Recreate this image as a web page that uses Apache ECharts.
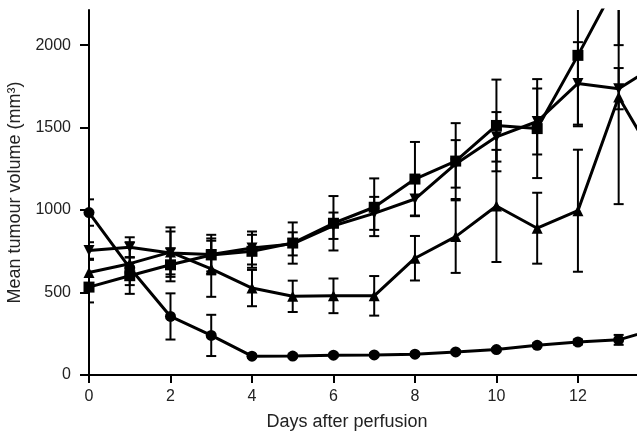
<!DOCTYPE html>
<html>
<head>
<meta charset="UTF-8">
<title>Mean tumour volume</title>
<script src="https://cdn.jsdelivr.net/npm/echarts@6/dist/echarts.min.js"></script>
<style>
  html, body { margin: 0; padding: 0; background: #fff; }
  #chart { width: 637px; height: 436px; }
</style>
</head>
<body>
<div id="chart"></div>
<script>
// days after perfusion (last point lies past the visible axis end, lines get clipped)
const days = [0, 1, 2, 3, 4, 5, 6, 7, 8, 9, 10, 11, 12, 13, 14];
const xTicks = [0, 2, 4, 6, 8, 10, 12];
const yTicks = [0, 500, 1000, 1500, 2000];

// mean volume and error per group
const circleVals = [985, 650, 355, 240, 114, 115, 120, 122, 126, 140, 154, 180, 200, 213, 285];
const circleErr  = [80, 30, 140, 125, 10, 10, 10, 10, 10, 10, 10, 12, 15, 30, 30];
const squareVals = [533, 602, 668, 728, 750, 800, 920, 1017, 1188, 1297, 1513, 1494, 1938, 2400, 2900];
const squareErr  = [93, 110, 100, 100, 100, 125, 165, 175, 225, 230, 278, 300, 430, 400, 400];
const upVals     = [622, 675, 745, 644, 527, 477, 480, 480, 708, 839, 1025, 890, 996, 1686, 1265];
const upErr      = [76, 130, 150, 170, 110, 95, 105, 120, 135, 220, 340, 215, 370, 650, 300];
const downVals   = [755, 775, 740, 730, 770, 795, 905, 980, 1067, 1280, 1444, 1537, 1768, 1736, 1890];
const downErr    = [50, 60, 130, 120, 100, 70, 80, 100, 100, 144, 150, 200, 250, 125, 150];

const chart = echarts.init(document.getElementById('chart'));

function lineSeries(vals, symbol, size, rotate) {
    return {
        type: 'line',
        data: days.map((d, i) => [d, vals[i]]),
        symbol: symbol,
        symbolSize: size,
        symbolRotate: rotate || 0,
        showAllSymbol: true,
        clip: true,
        z: 3,
        lineStyle: { color: '#000', width: 3 },
        itemStyle: { color: '#000', borderWidth: 0 }
    };
}

function errorSeries(vals, errs) {
    return {
        type: 'custom',
        silent: true,
        clip: true,
        z: 2,
        encode: { x: 0, y: [1, 2] },
        data: days.map((d, i) => [d, vals[i] - errs[i], vals[i] + errs[i]]),
        renderItem(params, api) {
            const lo = api.coord([api.value(0), api.value(1)]);
            const hi = api.coord([api.value(0), api.value(2)]);
            const w = 5;
            const style = { stroke: '#000', lineWidth: 2 };
            return {
                type: 'group',
                children: [
                    { type: 'line', shape: { x1: lo[0], y1: lo[1], x2: hi[0], y2: hi[1] }, style },
                    { type: 'line', shape: { x1: lo[0] - w, y1: lo[1], x2: lo[0] + w, y2: lo[1] }, style },
                    { type: 'line', shape: { x1: hi[0] - w, y1: hi[1], x2: hi[0] + w, y2: hi[1] }, style }
                ]
            };
        }
    };
}

const option = {
    animation: false,
    backgroundColor: '#fff',
    grid: { left: 89, right: 0, top: 10, bottom: 61, containLabel: false, outerBoundsMode: 'none' },
    xAxis: {
        type: 'value',
        min: 0,
        max: 13.45,
        name: 'Days after perfusion',
        nameLocation: 'middle',
        nameGap: 38,
        nameTextStyle: { fontFamily: 'Liberation Sans', fontSize: 18, color: '#222', padding: [0, 32, 0, 0] },
        axisLine: { lineStyle: { color: '#000', width: 2 } },
        axisTick: { customValues: xTicks, length: 8, lineStyle: { color: '#000', width: 2 } },
        axisLabel: { customValues: xTicks, margin: 14, fontFamily: 'Liberation Sans', fontSize: 16, color: '#222' },
        splitLine: { show: false }
    },
    yAxis: {
        type: 'value',
        min: 0,
        max: 2213,
        name: 'Mean tumour volume (mm³)',
        nameLocation: 'middle',
        nameGap: 63,
        nameTextStyle: { fontFamily: 'Liberation Sans', fontSize: 18, color: '#222' },
        axisLine: { show: true, lineStyle: { color: '#000', width: 2 } },
        axisTick: { show: true, customValues: yTicks, length: 9, lineStyle: { color: '#000', width: 2 } },
        axisLabel: {
            customValues: yTicks, margin: 18, fontFamily: 'Liberation Sans', fontSize: 16, color: '#222',
            formatter: v => String(v)
        },
        splitLine: { show: false }
    },
    series: [
        errorSeries(circleVals, circleErr),
        errorSeries(squareVals, squareErr),
        errorSeries(upVals, upErr),
        errorSeries(downVals, downErr),
        lineSeries(circleVals, 'circle', 11),
        lineSeries(squareVals, 'rect', 11),
        lineSeries(upVals, 'triangle', 11),
        lineSeries(downVals, 'triangle', 11, 180)
    ]
};

chart.setOption(option);
</script>
</body>
</html>
